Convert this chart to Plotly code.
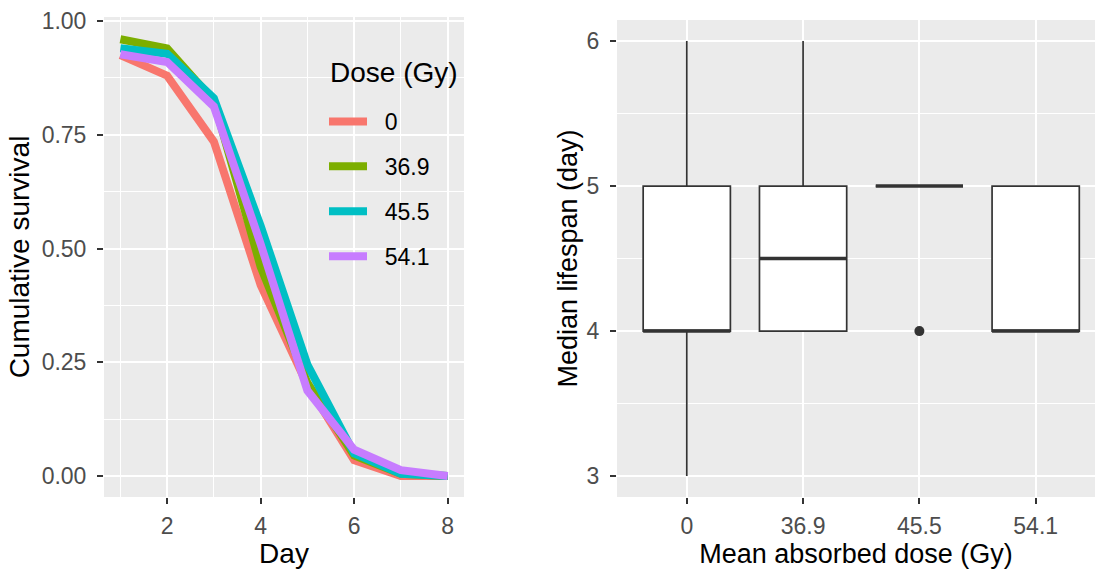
import plotly.graph_objects as go

# ---------------- data ----------------
days = [1, 2, 3, 4, 5, 6, 7, 8]
dose_labels = ["0", "36.9", "45.5", "54.1"]
surv_0 = [0.925, 0.880, 0.735, 0.420, 0.200, 0.035, 0.000, 0.000]
surv_369 = [0.960, 0.940, 0.825, 0.460, 0.205, 0.045, 0.005, 0.000]
surv_455 = [0.940, 0.928, 0.830, 0.550, 0.245, 0.050, 0.005, 0.000]
surv_541 = [0.927, 0.910, 0.812, 0.510, 0.188, 0.058, 0.013, 0.000]
line_colors = ["#F8766D", "#7CAE00", "#00BFC4", "#C77CFF"]

box_q1 = [4, 4, 5, 4]
box_median = [4, 4.5, 5, 4]
box_q3 = [5, 5, 5, 5]
box_low = [3, 4, 5, 4]
box_high = [6, 6, 5, 5]
outlier_cat = ["45.5"]
outlier_val = [4]

legend_title = "Dose (Gy)"

# ---------------- style ----------------
FONT = "Liberation Sans, Arial, Helvetica, sans-serif"
TICK_FS = 23
TITLE_FS_L = 28
TITLE_FS_R = 27
PANEL = "#EBEBEB"
TICKCOL = "#4D4D4D"
DARK = "#333333"
BOX_W = 0.75
PAD = "\u00a0\u00a0"

fig = go.Figure()

series = [surv_0, surv_369, surv_455, surv_541]
for name, vals, col in zip(dose_labels, series, line_colors):
    fig.add_trace(go.Scatter(
        x=days, y=vals, mode="lines", name=PAD + name,
        line=dict(color=col, width=8),
        legendgroup=name, xaxis="x", yaxis="y",
    ))

cat_pos = list(range(len(dose_labels)))
for i in cat_pos:
    fig.add_trace(go.Box(
        x=[i], q1=[box_q1[i]], median=[box_median[i]], q3=[box_q3[i]],
        lowerfence=[box_low[i]], upperfence=[box_high[i]],
        width=BOX_W, whiskerwidth=0, fillcolor="white",
        line=dict(color=DARK, width=1.7), boxpoints=False,
        showlegend=False, xaxis="x2", yaxis="y2",
    ))
    # thicker median (ggplot style)
    fig.add_trace(go.Scatter(
        x=[i - BOX_W / 2, i + BOX_W / 2], y=[box_median[i], box_median[i]],
        mode="lines", line=dict(color=DARK, width=3.4),
        showlegend=False, hoverinfo="skip", xaxis="x2", yaxis="y2",
    ))

fig.add_trace(go.Scatter(
    x=[dose_labels.index(c) for c in outlier_cat], y=outlier_val,
    mode="markers", marker=dict(color=DARK, size=10),
    showlegend=False, xaxis="x2", yaxis="y2",
))

W, H = 1095, 569

def dom_x(a, b):
    return [a / W, b / W]

def dom_y(top, bottom):
    return [1 - bottom / H, 1 - top / H]

axis_common = dict(
    showgrid=True, gridcolor="white", gridwidth=2,
    ticks="outside", ticklen=6, tickwidth=1.6, tickcolor=DARK,
    tickfont=dict(family=FONT, size=TICK_FS, color=TICKCOL),
    zeroline=False, showline=False, automargin=False,
)

fig.update_layout(
    width=W, height=H,
    margin=dict(l=0, r=0, t=0, b=0),
    paper_bgcolor="white",
    plot_bgcolor=PANEL,
    font=dict(family=FONT, color="black"),
    xaxis=dict(
        domain=dom_x(104, 464), range=[0.65, 8.35],
        tickvals=[2, 4, 6, 8], ticklabelstandoff=2,
        minor=dict(tickvals=[1, 3, 5, 7], showgrid=True, gridcolor="white", gridwidth=1, ticks=""),
        title=dict(text="Day", font=dict(family=FONT, size=TITLE_FS_L, color="black"), standoff=9),
        anchor="y", **axis_common,
    ),
    yaxis=dict(
        domain=dom_y(17, 497), range=[-0.046, 1.0088],
        tickvals=[0, 0.25, 0.5, 0.75, 1.0], ticktext=["0.00", "0.25", "0.50", "0.75", "1.00"],
        ticklabelstandoff=6,
        minor=dict(tickvals=[0.125, 0.375, 0.625, 0.875], showgrid=True, gridcolor="white", gridwidth=1, ticks=""),
        title=dict(text="Cumulative survival", font=dict(family=FONT, size=TITLE_FS_L, color="black"), standoff=3),
        anchor="x", **axis_common,
    ),
    xaxis2=dict(
        domain=dom_x(617, 1095), range=[-0.6, 3.51],
        tickvals=cat_pos, ticktext=dose_labels, ticklabelstandoff=2,
        title=dict(text="Mean absorbed dose (Gy)", font=dict(family=FONT, size=TITLE_FS_R, color="black"), standoff=9),
        anchor="y2", **axis_common,
    ),
    yaxis2=dict(
        domain=dom_y(20, 497), range=[2.856, 6.145],
        tickvals=[3, 4, 5, 6], ticklabelstandoff=6,
        minor=dict(tickvals=[3.5, 4.5, 5.5], showgrid=True, gridcolor="white", gridwidth=1, ticks=""),
        title=dict(text="Median lifespan (day)", font=dict(family=FONT, size=TITLE_FS_R, color="black"), standoff=1),
        anchor="x2", **axis_common,
    ),
    legend=dict(
        x=324 / W, y=1 - 100 / H, xanchor="left", yanchor="top",
        bgcolor="rgba(0,0,0,0)",
        font=dict(family=FONT, size=TICK_FS, color="black"),
        tracegroupgap=12, itemwidth=38,
    ),
    annotations=[dict(
        text=legend_title, xref="paper", yref="paper",
        x=328 / W, y=1 - 73 / H, xanchor="left", yanchor="middle",
        showarrow=False, font=dict(family=FONT, size=TITLE_FS_L, color="black"),
    )],
    showlegend=True,
)

fig.write_html("out.html")
